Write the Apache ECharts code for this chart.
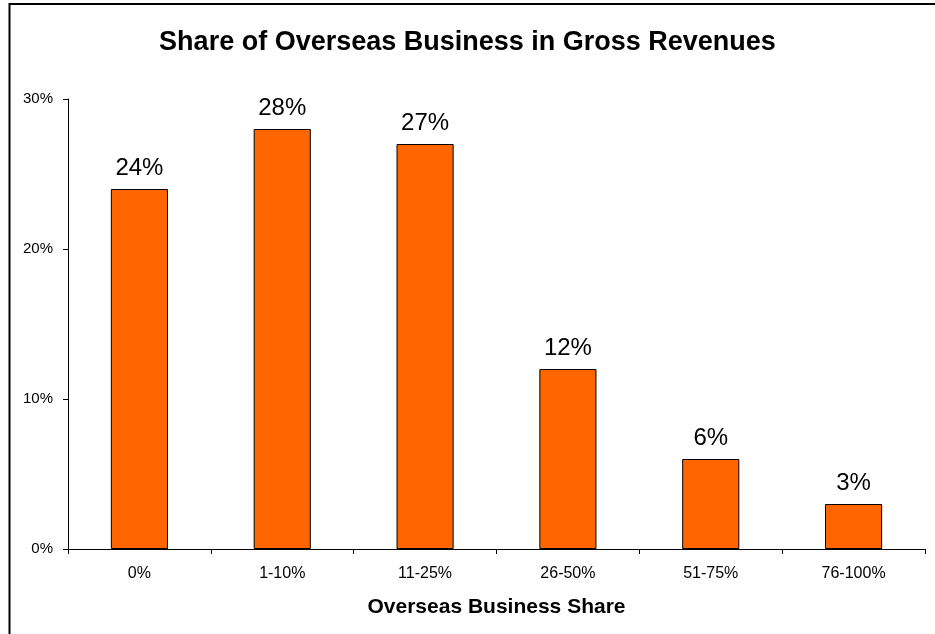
<!DOCTYPE html>
<html>
<head>
<meta charset="utf-8">
<script src="https://cdn.jsdelivr.net/npm/echarts@6/dist/echarts.min.js"></script>
<style>
  html, body { margin: 0; padding: 0; background: #fff; }
  #chart { width: 935px; height: 634px; }
</style>
</head>
<body>
<div id="chart"></div>
<script>
// Distribution of firms by overseas share of gross revenues
const categories = ['0%', '1-10%', '11-25%', '26-50%', '51-75%', '76-100%'];
const shares = [24, 28, 27, 12, 6, 3];
const yTicks = [0, 10, 20, 30];

const chart = echarts.init(document.getElementById('chart'), null, { renderer: 'canvas' });
const font = 'Arial, "Liberation Sans", sans-serif';

chart.setOption({
  animation: false,
  backgroundColor: '#ffffff',
  title: {
    text: 'Share of Overseas Business in Gross Revenues',
    left: 'center',
    top: 24,
    textStyle: { fontFamily: font, fontSize: 27, fontWeight: 'bold', color: '#000' }
  },
  graphic: [{
    type: 'rect',
    shape: { x: 9.5, y: 4, width: 1000, height: 1000 },
    style: { fill: 'none', stroke: '#000', lineWidth: 2 },
    silent: true
  }],
  grid: { left: 68, right: 10, top: 99, bottom: 85, containLabel: false },
  xAxis: {
    type: 'category',
    data: categories,
    name: 'Overseas Business Share',
    nameLocation: 'middle',
    nameGap: 48,
    nameTextStyle: { fontFamily: font, fontSize: 21, fontWeight: 'bold', color: '#000' },
    axisLine: { lineStyle: { color: '#000', width: 1 } },
    axisTick: { show: true, inside: false, length: 5, alignWithLabel: false, lineStyle: { color: '#000' } },
    axisLabel: { fontFamily: font, fontSize: 16, color: '#000', margin: 17 },
    splitLine: { show: false }
  },
  yAxis: {
    type: 'value',
    min: yTicks[0],
    max: yTicks[yTicks.length - 1],
    interval: 10,
    axisLine: { show: true, lineStyle: { color: '#000', width: 1 } },
    axisTick: { show: true, length: 5, lineStyle: { color: '#000' } },
    axisLabel: { fontFamily: font, fontSize: 15, color: '#000', margin: 15, formatter: v => v + '%' },
    splitLine: { show: false }
  },
  series: [{
    type: 'bar',
    data: shares,
    barWidth: '40%',
    itemStyle: { color: '#FF6600', borderColor: '#000', borderWidth: 1 },
    label: {
      show: true,
      position: 'top',
      distance: 9,
      fontFamily: font,
      fontSize: 24,
      color: '#000',
      formatter: p => p.value + '%'
    }
  }]
});
</script>
</body>
</html>
